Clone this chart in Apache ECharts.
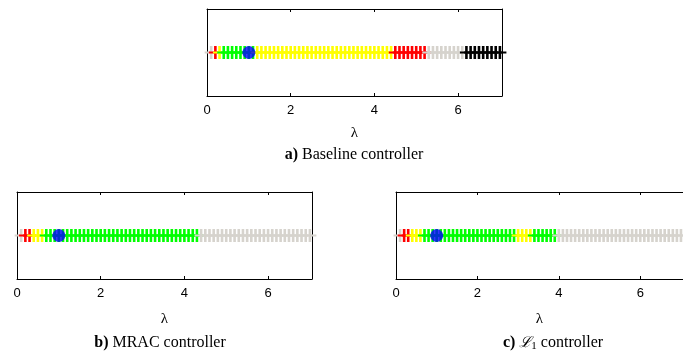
<!DOCTYPE html>
<html>
<head>
<meta charset="utf-8">
<script src="https://cdn.jsdelivr.net/npm/echarts@6/dist/echarts.min.js"></script>
<style>html,body{margin:0;padding:0;background:#fff;}#c{width:683px;height:363px;}</style>
</head>
<body>
<div id="c"></div>
<script>
// λ values of the evaluated points
const lambdas = [0.1,0.2,0.3,0.4,0.5,0.6,0.7,0.8,0.9,1.0,
  1.1,1.2,1.3,1.4,1.5,1.6,1.7,1.8,1.9,2.0,
  2.1,2.2,2.3,2.4,2.5,2.6,2.7,2.8,2.9,3.0,
  3.1,3.2,3.3,3.4,3.5,3.6,3.7,3.8,3.9,4.0,
  4.1,4.2,4.3,4.4,4.5,4.6,4.7,4.8,4.9,5.0,
  5.1,5.2,5.3,5.4,5.5,5.6,5.7,5.8,5.9,6.0,
  6.1,6.2,6.3,6.4,6.5,6.6,6.7,6.8,6.9,7.0];
// class per point: w=light grey, r=red, y=yellow, g=green, k=black
const classBaseline = ['w','r','y','g','g','g','g','g','g','g',
  'g','y','y','y','y','y','y','y','y','y',
  'y','y','y','y','y','y','y','y','y','y',
  'y','y','y','y','y','y','y','y','y','y',
  'y','y','y','y','r','r','r','r','r','r',
  'r','r','w','w','w','w','w','w','w','w',
  'w','k','k','k','k','k','k','k','k','k'];
const classMRAC = ['w','r','r','y','y','y','g','g','g','g',
  'g','g','g','g','g','g','g','g','g','g',
  'g','g','g','g','g','g','g','g','g','g',
  'g','g','g','g','g','g','g','g','g','g',
  'g','g','g','w','w','w','w','w','w','w',
  'w','w','w','w','w','w','w','w','w','w',
  'w','w','w','w','w','w','w','w','w','w'];
const classL1 = ['w','r','r','y','y','y','g','g','g','g',
  'g','g','g','g','g','g','g','g','g','g',
  'g','g','g','g','g','g','g','g','g','y',
  'y','y','y','g','g','g','g','g','g','w',
  'w','w','w','w','w','w','w','w','w','w',
  'w','w','w','w','w','w','w','w','w','w',
  'w','w','w','w','w','w','w','w','w','w'];
const nominalLambda = [1.0];
const xTicks = [0, 2, 4, 6];
const captions = [
  {b: 'a)', t: ' Baseline controller'},
  {b: 'b)', t: ' MRAC controller'},
  {b: 'c)', t: ' controller', L: 'ℒ', sub: '1'}
];

const colorMap = {w: '#d6d3cd', r: '#ff0000', y: '#ffff00', g: '#00ff00', k: '#000000'};
const plus = 'path://M5.2,0h2.6v5.4h5.2v2.2h-5.2v5.4h-2.6v-5.4h-5.2v-2.2h5.2z';

const grids = [
  {left: 207, top: 9, width: 295, height: 87, gap: 37},
  {left: 17, top: 192, width: 295, height: 87, gap: 40},
  {left: 396, top: 192, width: 295, height: 87, gap: 40}
];
const classes = [classBaseline, classMRAC, classL1];

const xAxis = [], yAxis = [], series = [];
grids.forEach((g, i) => {
  xAxis.push({
    gridIndex: i, type: 'value', min: 0, max: 7.05, interval: 2, position: 'bottom',
    name: 'λ', nameLocation: 'middle', nameGap: g.gap,
    nameTextStyle: {fontFamily: 'Liberation Serif', fontSize: 15, color: '#000', verticalAlign: 'middle'},
    axisLine: {show: true, onZero: false, lineStyle: {color: '#000', width: 1}},
    axisTick: {show: true, inside: true, length: 3, lineStyle: {color: '#000'}},
    axisLabel: {show: true, color: '#000', fontFamily: 'Liberation Sans', fontSize: 13, margin: 8,
      showMaxLabel: false, formatter: v => xTicks.indexOf(v) >= 0 ? String(v) : ''},
    splitLine: {show: false}
  });
  xAxis.push({
    gridIndex: i, type: 'value', min: 0, max: 7.05, interval: 2, position: 'top',
    axisLine: {show: true, onZero: false, lineStyle: {color: '#000', width: 1}},
    axisTick: {show: true, inside: true, length: 3, lineStyle: {color: '#000'}},
    axisLabel: {show: false}, splitLine: {show: false}
  });
  ['left', 'right'].forEach(pos => {
    yAxis.push({
      gridIndex: i, type: 'value', min: -1, max: 1, interval: 1, position: pos,
      axisLine: {show: true, onZero: false, lineStyle: {color: '#000', width: 1}},
      axisTick: {show: true, inside: true, length: 3, lineStyle: {color: '#000'}},
      axisLabel: {show: false}, splitLine: {show: false}
    });
  });
  series.push({
    type: 'scatter', xAxisIndex: 2 * i, yAxisIndex: 2 * i,
    symbol: plus, symbolSize: [13, 13], silent: true, animation: false,
    data: lambdas.map((l, k) => ({value: [l, 0], itemStyle: {color: colorMap[classes[i][k]], opacity: 1}}))
  });
  series.push({
    type: 'scatter', xAxisIndex: 2 * i, yAxisIndex: 2 * i,
    symbol: 'circle', symbolSize: 13, silent: true, animation: false,
    itemStyle: {color: '#0000ff'},
    data: nominalLambda.map(l => [l, 0]), z: 5
  });
});

const capPos = [[354, 155], [160, 343], [553, 343]];
const graphic = captions.map((c, i) => {
  let txt = '{b|' + c.b + '}';
  if (c.L) txt += '{n| }{L|' + c.L + '}{s|' + c.sub + '}';
  txt += '{n|' + c.t + '}';
  return {
    type: 'text', x: capPos[i][0], y: capPos[i][1],
    style: {
      text: txt, x: 0, y: 0, align: 'center', verticalAlign: 'middle',
      rich: {
        b: {fontFamily: 'Liberation Serif', fontWeight: 'bold', fontSize: 16, fill: '#000'},
        n: {fontFamily: 'Liberation Serif', fontSize: 16, fill: '#000'},
        L: {fontFamily: 'DejaVu Serif', fontStyle: 'italic', fontSize: 15, fill: '#000'},
        s: {fontFamily: 'Liberation Serif', fontSize: 11, fill: '#000', verticalAlign: 'bottom', padding: [6, 0, 0, 0]}
      }
    }
  };
});

const chart = echarts.init(document.getElementById('c'), null, {renderer: 'canvas'});
chart.setOption({
  animation: false,
  backgroundColor: '#fff',
  grid: grids.map(g => ({left: g.left, top: g.top, width: g.width, height: g.height, containLabel: false})),
  xAxis, yAxis, series,
  graphic
});
</script>
</body>
</html>
